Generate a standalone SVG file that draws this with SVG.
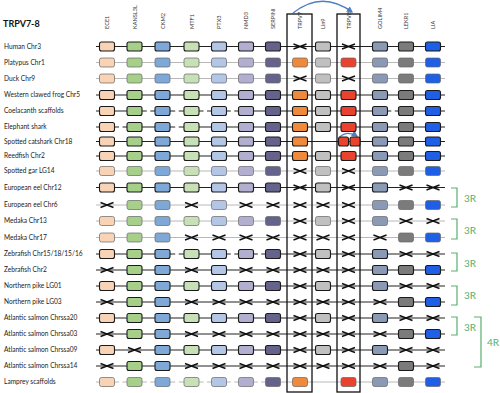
<svg xmlns="http://www.w3.org/2000/svg" xmlns:xlink="http://www.w3.org/1999/xlink" width="500" height="393" viewBox="0 0 500 393">
<style>
text{font-family:Lato,"Liberation Sans",sans-serif}
.lbl{font-size:6.6px;fill:#222}
.hdr{font-size:5.6px;fill:#333}
.ttl{font-size:9px;font-weight:bold;fill:#111}
.dk .b{stroke:#1a1a1a;stroke-width:1.1}
.lt .b{stroke:#666;stroke-width:0.7}
.x{stroke:#111;stroke-width:1.4;fill:none}
.ld{stroke:#222;stroke-width:1.1}
.ll{stroke:#b0b0b0;stroke-width:0.9}
.gap{fill:#fff}
.c1{fill:#f9d3b6}.c2{fill:#a6cf8a}.c3{fill:#7ea8d8}.c4{fill:#c8e0b6}.c5{fill:#b3c6e6}.c6{fill:#b2aed0}.c7{fill:#65638c}.c8{fill:#ef8a3c}.c9{fill:#c0c0c0}.c10{fill:#e9432f}.c11{fill:#8a9ab5}.c12{fill:#7b7b7b}.c13{fill:#1e5fe6}
.frame{fill:none;stroke:#111;stroke-width:1.3}
.brk{fill:none;stroke:#5aae6e;stroke-width:1.2}
.rt{font-size:10px;fill:#5aae6e}
.arc{fill:none;stroke:#4f7fc0;stroke-width:1.3}
</style>
<defs>
<rect id="bx" width="15" height="9" rx="2" y="-4.5"/>
<rect id="bs" width="10" height="9" rx="2" y="-4.5"/>
<path id="xx" d="M-6.5,-2.5L6.5,2.5M-6.5,2.5L6.5,-2.5"/>
<marker id="ah" viewBox="0 0 10 10" refX="8" refY="5" markerWidth="5" markerHeight="5" orient="auto">
<path d="M0,0L10,5L0,10z" fill="#4f7fc0"/>
</marker>
</defs>
<rect width="500" height="393" fill="#fff"/>
<text class="ttl" x="3" y="27">TRPV7-8</text>
<g id="headers">
<text class="hdr" transform="translate(109,29) rotate(-90)">ECE1</text>
<text class="hdr" transform="translate(136.5,29) rotate(-90)">KANSL3L</text>
<text class="hdr" transform="translate(164.5,29) rotate(-90)">CKM2</text>
<text class="hdr" transform="translate(193.5,29) rotate(-90)">MTF1</text>
<text class="hdr" transform="translate(221,29) rotate(-90)">PTX3</text>
<text class="hdr" transform="translate(248,29) rotate(-90)">NMD3</text>
<text class="hdr" transform="translate(275,29) rotate(-90)">SERPINI</text>
<text class="hdr" transform="translate(302,29) rotate(-90)">TRPV7</text>
<text class="hdr" transform="translate(325,29) rotate(-90)">Lin9</text>
<text class="hdr" transform="translate(350.5,29) rotate(-90)">TRPV8</text>
<text class="hdr" transform="translate(382,29) rotate(-90)">GOLIM4</text>
<text class="hdr" transform="translate(408,29) rotate(-90)">LEKR1</text>
<text class="hdr" transform="translate(435,29) rotate(-90)">LIA</text>
</g>
<g id="connectors">
<line class="ld" x1="96" x2="445" y1="46.5" y2="46.5"/>
<line class="ll" x1="96" x2="445" y1="62.5" y2="62.5"/>
<line class="ll" x1="96" x2="445" y1="78.5" y2="78.5"/>
<line class="ld" x1="96" x2="445" y1="95" y2="95"/>
<line class="ld" x1="96" x2="445" y1="111" y2="111"/>
<line class="ld" x1="96" x2="445" y1="127" y2="127"/>
<line class="ld" x1="96" x2="445" y1="141.5" y2="141.5"/>
<line class="ld" x1="96" x2="445" y1="156" y2="156"/>
<line class="ll" x1="96" x2="445" y1="171" y2="171"/>
<line class="ld" x1="96" x2="445" y1="187.5" y2="187.5"/>
<line class="ll" x1="96" x2="445" y1="205" y2="205"/>
<line class="ll" x1="96" x2="445" y1="221" y2="221"/>
<line class="ll" x1="96" x2="445" y1="237.5" y2="237.5"/>
<line class="ld" x1="96" x2="445" y1="254" y2="254"/>
<line class="ld" x1="96" x2="445" y1="270" y2="270"/>
<line class="ld" x1="96" x2="445" y1="286" y2="286"/>
<line class="ld" x1="96" x2="445" y1="302" y2="302"/>
<line class="ld" x1="96" x2="445" y1="318" y2="318"/>
<line class="ld" x1="96" x2="445" y1="334" y2="334"/>
<line class="ld" x1="96" x2="445" y1="350" y2="350"/>
<line class="ld" x1="96" x2="445" y1="366" y2="366"/>
<line class="ll" x1="96" x2="445" y1="382" y2="382"/>
<!-- dashed gaps -->
<rect class="gap" x="146.8" y="109" width="3.5" height="4"/>
<rect class="gap" x="175.2" y="109" width="3.5" height="4"/>
<rect class="gap" x="203.5" y="109" width="3.5" height="4"/>
<rect class="gap" x="230.8" y="109" width="3.5" height="4"/>
<rect class="gap" x="391.3" y="109" width="3.5" height="4"/>
<rect class="gap" x="119" y="125" width="3.5" height="4"/>
<rect class="gap" x="175.2" y="125" width="3.5" height="4"/>
<rect class="gap" x="175.2" y="252" width="3.5" height="4"/>
<rect class="gap" x="230.8" y="252" width="3.5" height="4"/>
<rect class="gap" x="257.8" y="252" width="3.5" height="4"/>
<rect class="gap" x="119" y="380" width="3.5" height="4"/>
<rect class="gap" x="146.8" y="380" width="3.5" height="4"/>
<rect class="gap" x="175.2" y="380" width="3.5" height="4"/>
<rect class="gap" x="203.5" y="380" width="3.5" height="4"/>
<rect class="gap" x="230.8" y="380" width="3.5" height="4"/>
<rect class="gap" x="257.8" y="380" width="3.5" height="4"/>
<path class="arc" d="M293,13 Q322,-10 352,12" marker-end="url(#ah)"/>
<path class="arc" stroke-width="1" d="M339,137.5 Q347,130 357,136" marker-end="url(#ah)"/>
</g>
<g id="frames">
<rect class="frame" x="287" y="14" width="25" height="378"/>
<rect class="frame" x="337" y="14" width="23" height="378"/>
</g>
<g id="row-human" class="dk" transform="translate(0,46.5)">
<text class="lbl" x="4" y="2.3">Human Chr3</text>
<use href="#bx" class="b c1" x="99.5"/><use href="#bx" class="b c2" x="127"/><use href="#bx" class="b c3" x="155"/><use href="#bx" class="b c4" x="184"/><use href="#bx" class="b c5" x="211.5"/><use href="#bx" class="b c6" x="238.5"/><use href="#bx" class="b c7" x="265.5"/>
<use href="#xx" class="x" x="300"/><use href="#bx" class="b c9" x="315.5"/><use href="#xx" class="x" x="348.5"/>
<use href="#bx" class="b c11" x="372.5"/><use href="#bx" class="b c12" x="398.5"/><use href="#bx" class="b c13" x="425.5"/>
</g>
<g id="row-platypus" class="lt" transform="translate(0,62.5)">
<text class="lbl" x="4" y="2.3">Platypus Chr1</text>
<use href="#bx" class="b c1" x="99.5"/><use href="#bx" class="b c2" x="127"/><use href="#bx" class="b c3" x="155"/><use href="#bx" class="b c4" x="184"/><use href="#bx" class="b c5" x="211.5"/><use href="#bx" class="b c6" x="238.5"/><use href="#bx" class="b c7" x="265.5"/>
<use href="#bx" class="b c8" x="292.5"/><use href="#bx" class="b c9" x="315.5"/><use href="#bx" class="b c10" x="341"/>
<use href="#bx" class="b c11" x="372.5"/><use href="#bx" class="b c12" x="398.5"/><use href="#bx" class="b c13" x="425.5"/>
</g>
<g id="row-duck" class="lt" transform="translate(0,78.5)">
<text class="lbl" x="4" y="2.3">Duck Chr9</text>
<use href="#bx" class="b c1" x="99.5"/><use href="#bx" class="b c2" x="127"/><use href="#bx" class="b c3" x="155"/><use href="#bx" class="b c4" x="184"/><use href="#bx" class="b c5" x="211.5"/><use href="#bx" class="b c6" x="238.5"/><use href="#bx" class="b c7" x="265.5"/>
<use href="#xx" class="x" x="300"/><use href="#bx" class="b c9" x="315.5"/><use href="#xx" class="x" x="348.5"/>
<use href="#bx" class="b c11" x="372.5"/><use href="#bx" class="b c12" x="398.5"/><use href="#bx" class="b c13" x="425.5"/>
</g>
<g id="row-frog" class="dk" transform="translate(0,95)">
<text class="lbl" x="4" y="2.3">Western clawed frog Chr5</text>
<use href="#bx" class="b c1" x="99.5"/><use href="#bx" class="b c2" x="127"/><use href="#bx" class="b c3" x="155"/><use href="#bx" class="b c4" x="184"/><use href="#bx" class="b c5" x="211.5"/><use href="#bx" class="b c6" x="238.5"/><use href="#bx" class="b c7" x="265.5"/>
<use href="#bx" class="b c8" x="292.5"/><use href="#bx" class="b c9" x="315.5"/><use href="#bx" class="b c10" x="341"/>
<use href="#bx" class="b c11" x="372.5"/><use href="#bx" class="b c12" x="398.5"/><use href="#bx" class="b c13" x="425.5"/>
</g>
<g id="row-coelacanth" class="dk" transform="translate(0,111)">
<text class="lbl" x="4" y="2.3">Coelacanth scaffolds</text>
<use href="#bx" class="b c1" x="99.5"/><use href="#bx" class="b c2" x="127"/><use href="#bx" class="b c3" x="155"/><use href="#bx" class="b c4" x="184"/><use href="#bx" class="b c5" x="211.5"/><use href="#bx" class="b c6" x="238.5"/><use href="#bx" class="b c7" x="265.5"/>
<use href="#bx" class="b c8" x="292.5"/><use href="#bx" class="b c9" x="315.5"/><use href="#bx" class="b c10" x="341"/>
<use href="#bx" class="b c11" x="372.5"/><use href="#bx" class="b c12" x="398.5"/><use href="#bx" class="b c13" x="425.5"/>
</g>
<g id="row-elephant-shark" class="dk" transform="translate(0,127)">
<text class="lbl" x="4" y="2.3">Elephant shark</text>
<use href="#bx" class="b c1" x="99.5"/><use href="#bx" class="b c2" x="127"/><use href="#bx" class="b c3" x="155"/><use href="#bx" class="b c4" x="184"/><use href="#bx" class="b c5" x="211.5"/><use href="#bx" class="b c6" x="238.5"/><use href="#bx" class="b c7" x="265.5"/>
<use href="#bx" class="b c8" x="292.5"/><use href="#bx" class="b c9" x="315.5"/><use href="#bx" class="b c10" x="341"/>
<use href="#bx" class="b c11" x="372.5"/><use href="#bx" class="b c12" x="398.5"/><use href="#bx" class="b c13" x="425.5"/>
</g>
<g id="row-catshark" class="dk" transform="translate(0,141.5)">
<text class="lbl" x="4" y="2.3">Spotted catshark Chr18</text>
<use href="#bx" class="b c1" x="99.5"/><use href="#bx" class="b c2" x="127"/><use href="#bx" class="b c3" x="155"/><use href="#bx" class="b c4" x="184"/><use href="#bx" class="b c5" x="211.5"/><use href="#bx" class="b c6" x="238.5"/><use href="#bx" class="b c7" x="265.5"/>
<use href="#bx" class="b c8" x="292.5"/><use href="#bs" class="b c10" x="338.5"/><use href="#bs" class="b c10" x="350"/>
<use href="#bx" class="b c11" x="372.5"/><use href="#bx" class="b c12" x="398.5"/><use href="#bx" class="b c13" x="425.5"/>
</g>
<g id="row-reedfish" class="dk" transform="translate(0,156)">
<text class="lbl" x="4" y="2.3">Reedfish Chr2</text>
<use href="#bx" class="b c1" x="99.5"/><use href="#bx" class="b c2" x="127"/><use href="#bx" class="b c3" x="155"/><use href="#bx" class="b c4" x="184"/><use href="#bx" class="b c5" x="211.5"/><use href="#bx" class="b c6" x="238.5"/><use href="#bx" class="b c7" x="265.5"/>
<use href="#bx" class="b c8" x="292.5"/><use href="#bx" class="b c9" x="315.5"/><use href="#bx" class="b c10" x="341"/>
<use href="#bx" class="b c11" x="372.5"/><use href="#bx" class="b c12" x="398.5"/><use href="#bx" class="b c13" x="425.5"/>
</g>
<g id="row-spotted-gar" class="lt" transform="translate(0,171)">
<text class="lbl" x="4" y="2.3">Spotted gar LG14</text>
<use href="#bx" class="b c1" x="99.5"/><use href="#bx" class="b c2" x="127"/><use href="#bx" class="b c3" x="155"/><use href="#bx" class="b c4" x="184"/><use href="#bx" class="b c5" x="211.5"/><use href="#bx" class="b c6" x="238.5"/><use href="#bx" class="b c7" x="265.5"/>
<use href="#xx" class="x" x="300"/><use href="#bx" class="b c9" x="315.5"/><use href="#xx" class="x" x="348.5"/>
<use href="#bx" class="b c11" x="372.5"/><use href="#bx" class="b c12" x="398.5"/><use href="#bx" class="b c13" x="425.5"/>
</g>
<g id="row-eel12" class="dk" transform="translate(0,187.5)">
<text class="lbl" x="4" y="2.3">European eel Chr12</text>
<use href="#bx" class="b c1" x="99.5"/><use href="#bx" class="b c2" x="127"/><use href="#bx" class="b c3" x="155"/><use href="#bx" class="b c4" x="184"/><use href="#bx" class="b c5" x="211.5"/><use href="#bx" class="b c6" x="238.5"/><use href="#bx" class="b c7" x="265.5"/>
<use href="#xx" class="x" x="300"/><use href="#bx" class="b c9" x="315.5"/><use href="#xx" class="x" x="348.5"/>
<use href="#bx" class="b c11" x="372.5"/><use href="#xx" class="x" x="406"/><use href="#xx" class="x" x="433"/>
</g>
<g id="row-eel6" class="lt" transform="translate(0,205)">
<text class="lbl" x="4" y="2.3">European eel Chr6</text>
<use href="#xx" class="x" x="107"/><use href="#bx" class="b c2" x="127"/><use href="#bx" class="b c3" x="155"/><use href="#xx" class="x" x="191.5"/><use href="#bx" class="b c5" x="211.5"/><use href="#xx" class="x" x="246"/><use href="#xx" class="x" x="273"/>
<use href="#xx" class="x" x="300"/><use href="#xx" class="x" x="323"/><use href="#xx" class="x" x="348.5"/>
<use href="#bx" class="b c11" x="372.5"/><use href="#bx" class="b c12" x="398.5"/><use href="#bx" class="b c13" x="425.5"/>
</g>
<g id="row-medaka13" class="lt" transform="translate(0,221)">
<text class="lbl" x="4" y="2.3">Medaka Chr13</text>
<use href="#bx" class="b c1" x="99.5"/><use href="#bx" class="b c2" x="127"/><use href="#bx" class="b c3" x="155"/><use href="#bx" class="b c4" x="184"/><use href="#bx" class="b c5" x="211.5"/><use href="#bx" class="b c6" x="238.5"/><use href="#bx" class="b c7" x="265.5"/>
<use href="#xx" class="x" x="300"/><use href="#bx" class="b c9" x="315.5"/><use href="#xx" class="x" x="348.5"/>
<use href="#bx" class="b c11" x="372.5"/><use href="#xx" class="x" x="406"/><use href="#xx" class="x" x="433"/>
</g>
<g id="row-medaka17" class="lt" transform="translate(0,237.5)">
<text class="lbl" x="4" y="2.3">Medaka Chr17</text>
<use href="#bx" class="b c1" x="99.5"/><use href="#bx" class="b c2" x="127"/><use href="#bx" class="b c3" x="155"/><use href="#xx" class="x" x="191.5"/><use href="#xx" class="x" x="219"/><use href="#xx" class="x" x="246"/><use href="#xx" class="x" x="273"/>
<use href="#xx" class="x" x="300"/><use href="#xx" class="x" x="323"/><use href="#xx" class="x" x="348.5"/>
<use href="#xx" class="x" x="380"/><use href="#bx" class="b c12" x="398.5"/><use href="#bx" class="b c13" x="425.5"/>
</g>
<g id="row-zebrafish-a" class="dk" transform="translate(0,254)">
<text class="lbl" x="4" y="2.3">Zebrafish Chr15/18/15/16</text>
<use href="#bx" class="b c1" x="99.5"/><use href="#bx" class="b c2" x="127"/><use href="#bx" class="b c3" x="155"/><use href="#bx" class="b c4" x="184"/><use href="#bx" class="b c5" x="211.5"/><use href="#bx" class="b c6" x="238.5"/><use href="#bx" class="b c7" x="265.5"/>
<use href="#xx" class="x" x="300"/><use href="#bx" class="b c9" x="315.5"/><use href="#xx" class="x" x="348.5"/>
<use href="#bx" class="b c11" x="372.5"/><use href="#xx" class="x" x="406"/><use href="#xx" class="x" x="433"/>
</g>
<g id="row-zebrafish2" class="dk" transform="translate(0,270)">
<text class="lbl" x="4" y="2.3">Zebrafish Chr2</text>
<use href="#xx" class="x" x="107"/><use href="#bx" class="b c2" x="127"/><use href="#bx" class="b c3" x="155"/><use href="#xx" class="x" x="191.5"/><use href="#bx" class="b c5" x="211.5"/><use href="#xx" class="x" x="246"/><use href="#xx" class="x" x="273"/>
<use href="#xx" class="x" x="300"/><use href="#xx" class="x" x="323"/><use href="#xx" class="x" x="348.5"/>
<use href="#bx" class="b c11" x="372.5"/><use href="#bx" class="b c12" x="398.5"/><use href="#bx" class="b c13" x="425.5"/>
</g>
<g id="row-pike01" class="dk" transform="translate(0,286)">
<text class="lbl" x="4" y="2.3">Northern pike LG01</text>
<use href="#bx" class="b c1" x="99.5"/><use href="#bx" class="b c2" x="127"/><use href="#bx" class="b c3" x="155"/><use href="#bx" class="b c4" x="184"/><use href="#bx" class="b c5" x="211.5"/><use href="#bx" class="b c6" x="238.5"/><use href="#bx" class="b c7" x="265.5"/>
<use href="#xx" class="x" x="300"/><use href="#bx" class="b c9" x="315.5"/><use href="#xx" class="x" x="348.5"/>
<use href="#bx" class="b c11" x="372.5"/><use href="#xx" class="x" x="406"/><use href="#xx" class="x" x="433"/>
</g>
<g id="row-pike03" class="dk" transform="translate(0,302)">
<text class="lbl" x="4" y="2.3">Northern pike LG03</text>
<use href="#xx" class="x" x="107"/><use href="#bx" class="b c2" x="127"/><use href="#bx" class="b c3" x="155"/><use href="#xx" class="x" x="191.5"/><use href="#xx" class="x" x="219"/><use href="#xx" class="x" x="246"/><use href="#xx" class="x" x="273"/>
<use href="#xx" class="x" x="300"/><use href="#xx" class="x" x="323"/><use href="#xx" class="x" x="348.5"/>
<use href="#xx" class="x" x="380"/><use href="#bx" class="b c12" x="398.5"/><use href="#bx" class="b c13" x="425.5"/>
</g>
<g id="row-salmon20" class="dk" transform="translate(0,318)">
<text class="lbl" x="4" y="2.3">Atlantic salmon Chrssa20</text>
<use href="#bx" class="b c1" x="99.5"/><use href="#bx" class="b c2" x="127"/><use href="#bx" class="b c3" x="155"/><use href="#bx" class="b c4" x="184"/><use href="#bx" class="b c5" x="211.5"/><use href="#bx" class="b c6" x="238.5"/><use href="#bx" class="b c7" x="265.5"/>
<use href="#xx" class="x" x="300"/><use href="#bx" class="b c9" x="315.5"/><use href="#xx" class="x" x="348.5"/>
<use href="#bx" class="b c11" x="372.5"/><use href="#xx" class="x" x="406"/><use href="#xx" class="x" x="433"/>
</g>
<g id="row-salmon03" class="dk" transform="translate(0,334)">
<text class="lbl" x="4" y="2.3">Atlantic salmon Chrssa03</text>
<use href="#xx" class="x" x="107"/><use href="#bx" class="b c2" x="127"/><use href="#bx" class="b c3" x="155"/><use href="#xx" class="x" x="191.5"/><use href="#xx" class="x" x="219"/><use href="#xx" class="x" x="246"/><use href="#xx" class="x" x="273"/>
<use href="#xx" class="x" x="300"/><use href="#xx" class="x" x="323"/><use href="#xx" class="x" x="348.5"/>
<use href="#xx" class="x" x="380"/><use href="#bx" class="b c12" x="398.5"/><use href="#bx" class="b c13" x="425.5"/>
</g>
<g id="row-salmon09" class="dk" transform="translate(0,350)">
<text class="lbl" x="4" y="2.3">Atlantic salmon Chrssa09</text>
<use href="#bx" class="b c1" x="99.5"/><use href="#xx" class="x" x="134.5"/><use href="#bx" class="b c3" x="155"/><use href="#bx" class="b c4" x="184"/><use href="#bx" class="b c5" x="211.5"/><use href="#bx" class="b c6" x="238.5"/><use href="#bx" class="b c7" x="265.5"/>
<use href="#xx" class="x" x="300"/><use href="#bx" class="b c9" x="315.5"/><use href="#xx" class="x" x="348.5"/>
<use href="#bx" class="b c11" x="372.5"/><use href="#xx" class="x" x="406"/><use href="#xx" class="x" x="433"/>
</g>
<g id="row-salmon14" class="dk" transform="translate(0,366)">
<text class="lbl" x="4" y="2.3">Atlantic salmon Chrssa14</text>
<use href="#xx" class="x" x="107"/><use href="#bx" class="b c2" x="127"/><use href="#bx" class="b c3" x="155"/><use href="#xx" class="x" x="191.5"/><use href="#xx" class="x" x="219"/><use href="#xx" class="x" x="246"/><use href="#xx" class="x" x="273"/>
<use href="#xx" class="x" x="300"/><use href="#xx" class="x" x="323"/><use href="#xx" class="x" x="348.5"/>
<use href="#xx" class="x" x="380"/><use href="#bx" class="b c12" x="398.5"/><use href="#xx" class="x" x="433"/>
</g>
<g id="row-lamprey" class="lt" transform="translate(0,382)">
<text class="lbl" x="4" y="2.3">Lamprey scaffolds</text>
<use href="#bx" class="b c1" x="99.5"/><use href="#bx" class="b c2" x="127"/><use href="#bx" class="b c3" x="155"/><use href="#bx" class="b c4" x="184"/><use href="#bx" class="b c5" x="211.5"/><use href="#bx" class="b c6" x="238.5"/><use href="#bx" class="b c7" x="265.5"/>
<use href="#bx" class="b c8" x="292.5"/><use href="#bx" class="b c10" x="341"/>
<use href="#bx" class="b c11" x="372.5"/><use href="#bx" class="b c12" x="398.5"/><use href="#bx" class="b c13" x="425.5"/>
</g>
<g id="brackets">
<path class="brk" d="M451,188H457V207H451"/>
<text class="rt" x="464" y="202">3R</text>
<path class="brk" d="M451,219H457V239H451"/>
<text class="rt" x="464" y="234">3R</text>
<path class="brk" d="M451,253H457V271H451"/>
<text class="rt" x="464" y="267">3R</text>
<path class="brk" d="M451,286H457V305H451"/>
<text class="rt" x="464" y="299">3R</text>
<path class="brk" d="M451,317H457V335H451"/>
<text class="rt" x="464" y="331">3R</text>
<path class="brk" d="M474,317H481V367H474"/>
<text class="rt" x="487" y="346">4R</text>
</g>
</svg>
